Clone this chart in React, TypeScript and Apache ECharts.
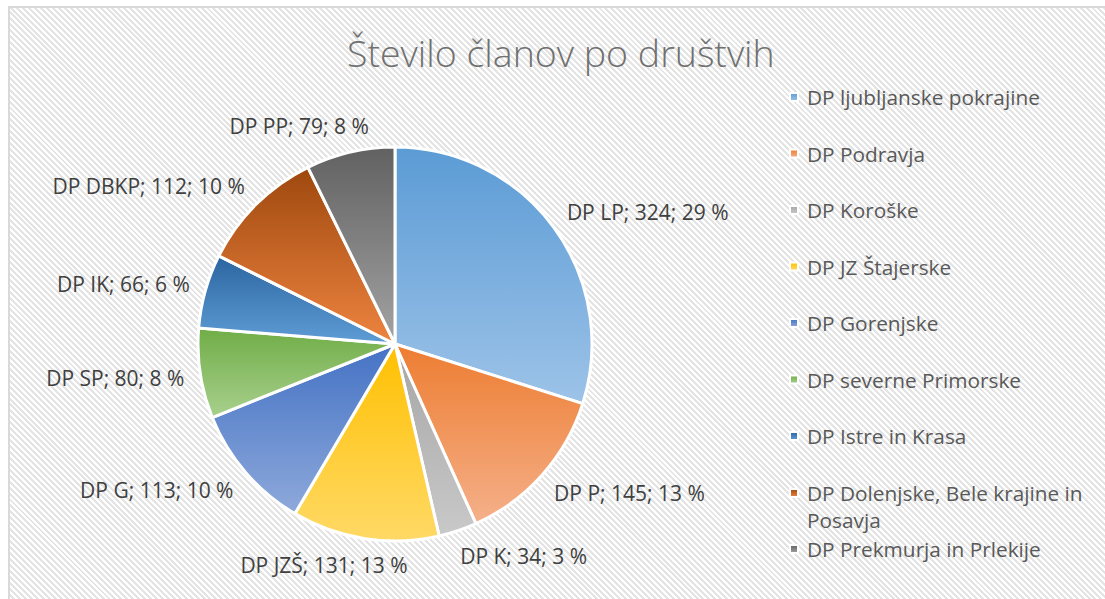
import React, { useEffect, useRef } from "react";
import * as echarts from "echarts";

const NAMES = [
  "DP ljubljanske pokrajine",
  "DP Podravja",
  "DP Koroške",
  "DP JZ Štajerske",
  "DP Gorenjske",
  "DP severne Primorske",
  "DP Istre in Krasa",
  "DP Dolenjske, Bele krajine in Posavja",
  "DP Prekmurja in Prlekije",
];
const SHORT = ["DP LP", "DP P", "DP K", "DP JZŠ", "DP G", "DP SP", "DP IK", "DP DBKP", "DP PP"];
const VALUES = [324, 145, 34, 131, 113, 80, 66, 112, 79];
const PCT = [29, 13, 3, 13, 10, 8, 6, 10, 8];
const COLORS_TOP = ["#5B9BD5", "#ED7D31", "#A5A5A5", "#FFC000", "#4472C4", "#70AD47", "#2B65A0", "#9E480E", "#616161"];
const COLORS_BOTTOM = ["#9DC3E8", "#F5B08A", "#C9C9C9", "#FFD966", "#8EA9DB", "#A8D08D", "#5F9DD6", "#EE8440", "#A3A3A3"];

const TITLE = "Število članov po društvih";

const CX = 395;
const CY = 344;
const R = 197;
const GAP = 16;

export default function App() {
  const ref = useRef<HTMLDivElement>(null);
  useEffect(() => {
    if (!ref.current) return;
    const chart = echarts.init(ref.current, null, { renderer: "svg" });
    const total = VALUES.reduce((a, b) => a + b, 0);
    const mids = VALUES.map((v, i) => {
      const before = VALUES.slice(0, i).reduce((a, b) => a + b, 0);
      return ((before + v / 2) / total) * Math.PI * 2;
    });
    const grad = (i: number) =>
      new echarts.graphic.LinearGradient(0, 0, 0, 1, [
        { offset: 0, color: COLORS_TOP[i] },
        { offset: 1, color: COLORS_BOTTOM[i] },
      ]);
    const legendText = {
      fontFamily: "Open Sans",
      fontSize: 20.8,
      color: "#595959",
      lineHeight: 27,
      padding: [0, 0, 0, 4],
    };
    const legendCommon = {
      orient: "vertical",
      left: 789,
      padding: 0,
      icon: "rect",
      itemWidth: 8,
      itemHeight: 8,
      selectedMode: false,
      textStyle: legendText,
    };
    chart.setOption({
      animation: false,
      title: {
        text: TITLE,
        left: 347,
        top: 33,
        padding: 0,
        textStyle: {
          fontFamily: "Open Sans",
          fontWeight: 300,
          fontSize: 37.5,
          color: "#707070",
        },
      },
      legend: [
        { ...legendCommon, top: 83.5, itemGap: 29.5, data: NAMES.slice(0, 7) },
        {
          ...legendCommon,
          top: 452.5,
          data: [NAMES[7]],
          formatter: () => "\nDP Dolenjske, Bele krajine in\nPosavja",
        },
        { ...legendCommon, top: 535.5, data: [NAMES[8]] },
      ],
      series: [
        {
          type: "pie",
          center: [CX, CY],
          radius: R,
          startAngle: 90,
          clockwise: true,
          avoidLabelOverlap: false,
          itemStyle: { borderColor: "#ffffff", borderWidth: 3 },
          label: {
            show: true,
            position: "outside",
            fontFamily: "Open Sans",
            fontSize: 21,
            color: "#404040",
            formatter: (p: any) => `${SHORT[p.dataIndex]}; ${p.value}; ${PCT[p.dataIndex]} %`,
          },
          labelLine: { show: false },
          labelLayout: (p: any) => {
            const a = mids[p.dataIndex];
            const dx = Math.sin(a);
            const dy = -Math.cos(a);
            const w = p.labelRect.width;
            const h = p.labelRect.height;
            const px = CX + dx * (R + GAP);
            const py = CY + dy * (R + GAP);
            const k = Math.max(-1, Math.min(1, dx * 3));
            return { x: px + (k * w) / 2, y: py + (dy * h) / 2, align: "center", verticalAlign: "middle" };
          },
          emphasis: { disabled: true },
          data: VALUES.map((v, i) => ({ name: NAMES[i], value: v, itemStyle: { color: grad(i) } })),
        },
      ],
    });
    return () => chart.dispose();
  }, []);
  return (
    <div style={{ position: "absolute", left: 0, top: 0, width: 1105, height: 599, background: "#ffffff" }}>
      <div
        style={{
          position: "absolute",
          left: 8,
          top: 6,
          right: 0,
          bottom: 0,
          borderLeft: "2px solid #d9d9d9",
          borderTop: "2px solid #d9d9d9",
          background:
            "repeating-linear-gradient(45deg, #ffffff 0px, #ffffff 2.1px, #e4e4e4 2.1px, #e4e4e4 4.2px)",
        }}
      />
      <div ref={ref} style={{ position: "absolute", left: 0, top: 0, width: 1105, height: 599 }} />
    </div>
  );
}
